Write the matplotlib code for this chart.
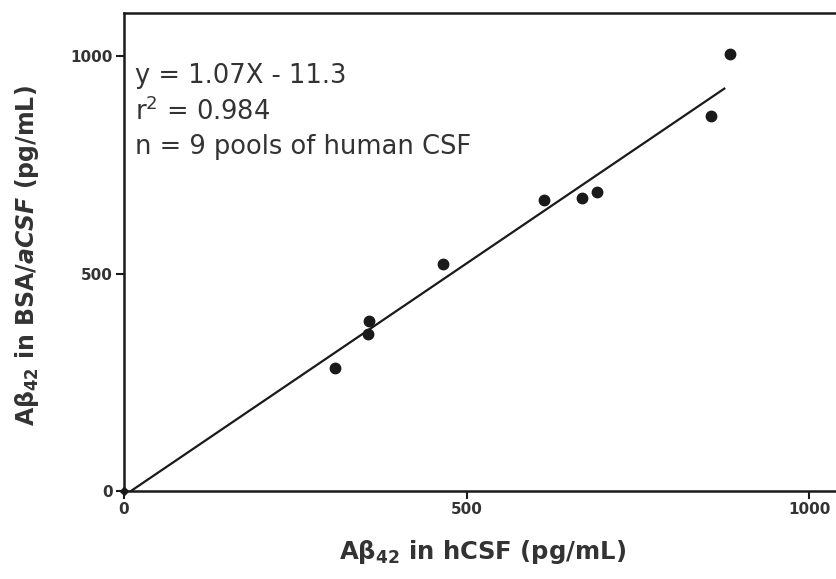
import matplotlib
matplotlib.use("Agg")
import numpy as np
import matplotlib.pyplot as plt

plt.rcParams["font.family"] = ["DejaVu Sans"]
plt.rcParams["mathtext.fontset"] = "custom"
plt.rcParams["mathtext.rm"] = "DejaVu Sans"
plt.rcParams["mathtext.it"] = "DejaVu Sans:italic"
plt.rcParams["mathtext.bf"] = "DejaVu Sans:bold"
plt.rcParams["mathtext.bfit"] = "DejaVu Sans:italic:bold"

# pooled human CSF vs BSA/aCSF measurements (pg/mL)
hcsf = [308, 357, 358, 466, 613, 669, 691, 857, 884]
bsa_acsf = [283, 362, 391, 523, 670, 675, 687, 863, 1006]

slope = 1.07
intercept = -11.3
fit_x = [0, 876]

x_ticks = [0, 500, 1000]
y_ticks = [0, 500, 1000]

ink = "#1a1a1a"
text_col = "#333333"

fig = plt.figure(figsize=(8.36, 5.79), dpi=100)
ax = fig.add_axes((0.148, 0.152, 0.857, 0.8255))

fx = np.array(fit_x, dtype=float)
ax.plot(fx, slope * fx + intercept, color=ink, lw=1.6, zorder=2)
ax.plot(hcsf, bsa_acsf, "o", color=ink, ms=7.5, zorder=3)
ax.plot([0], [0], "D", color=ink, ms=4.5, clip_on=False, zorder=4)

ax.set_xlim(0, 1045)
ax.set_ylim(0, 1100)
ax.set_xticks(x_ticks)
ax.set_yticks(y_ticks)
ax.tick_params(direction="out", length=6, width=1.5, color=ink, labelsize=11,
               labelcolor=text_col, pad=2)
for lab in ax.get_xticklabels() + ax.get_yticklabels():
    lab.set_fontweight("bold")
for side in ("left", "bottom", "top"):
    ax.spines[side].set_linewidth(1.8)
    ax.spines[side].set_color(ink)
ax.spines["right"].set_visible(False)

fit_lines = ["y = 1.07X - 11.3", "r$^2$ = 0.984", "n = 9 pools of human CSF"]
for line, yy in zip(fit_lines, [0.868, 0.793, 0.720]):
    ax.text(0.016, yy, line, transform=ax.transAxes, fontsize=18.5,
            color=text_col, va="center", ha="left")

fig.text(0.577, 0.047, r"Aβ$_{\mathbf{42}}$ in hCSF (pg/mL)", fontsize=17.5,
         fontweight="bold", color=text_col, ha="center", va="center")
fig.text(0.032, 0.558, r"Aβ$_{\mathbf{42}}$ in BSA/$\mathbfit{aCSF}$ (pg/mL)", fontsize=17,
         fontweight="bold", color=text_col, ha="center", va="center", rotation=90)

fig.savefig("out.png", dpi=100)
